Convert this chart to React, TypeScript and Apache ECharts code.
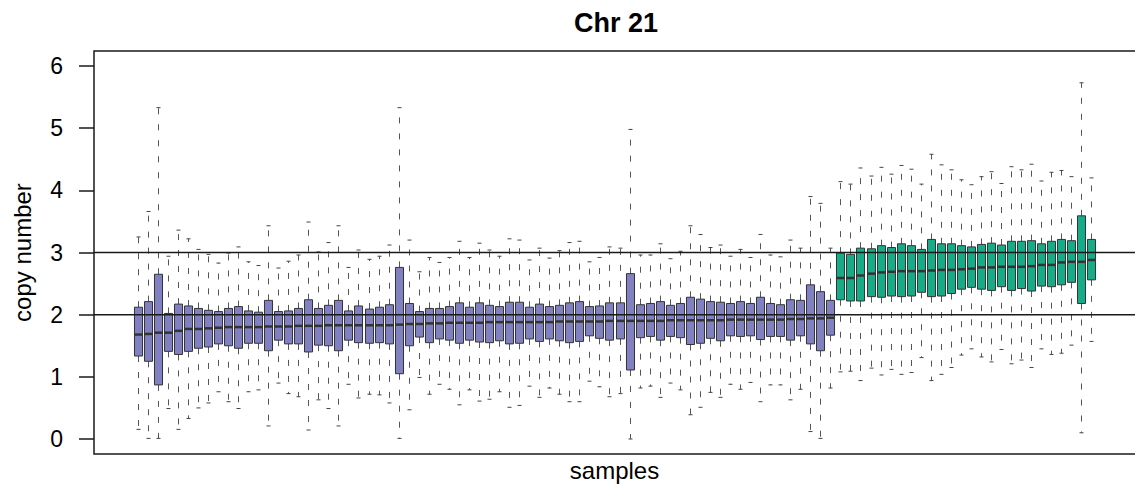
import React, { useEffect, useRef } from "react";
import * as echarts from "echarts";

// ---- data ----
const groupSizes = [70, 26];
const groupColors = ["#8181c2", "#17ab88"];

const whiskerHigh = [
  3.25, 3.66, 5.33, 2.94, 3.36, 3.22, 3.05, 2.97, 2.83, 2.99, 3.09, 2.85, 2.79, 3.43, 2.75, 2.86, 2.96, 3.49, 3.01, 3.16, 3.43, 2.76, 3.04, 2.89, 2.94, 3.12, 5.33, 3.20, 2.69, 2.92, 2.84, 2.92, 3.18,
  2.92, 3.15, 3.04, 2.94, 3.22, 3.20, 2.88, 3.07, 2.91, 3.03, 3.16, 3.18, 2.85, 2.92, 3.09, 3.07, 4.98, 2.96, 2.96, 3.14, 2.90, 3.02, 3.43, 3.29, 3.08, 3.12, 2.94, 3.05, 2.92, 3.29, 2.96, 2.93, 3.20, 3.07, 3.90, 3.79, 3.07,
  4.14, 4.10, 4.36, 4.23, 4.37, 4.26, 4.40, 4.34, 4.10, 4.58, 4.41, 4.33, 4.17, 4.09, 4.22, 4.30, 4.11, 4.38, 4.33, 4.42, 4.15, 4.29, 4.32, 4.22, 5.73, 4.20,
];
const upperQuartile = [
  2.12, 2.21, 2.65, 2.02, 2.17, 2.14, 2.10, 2.07, 2.05, 2.10, 2.13, 2.06, 2.04, 2.23, 2.05, 2.06, 2.10, 2.24, 2.10, 2.15, 2.23, 2.06, 2.14, 2.09, 2.12, 2.16, 2.76, 2.18, 2.05, 2.10, 2.10, 2.13, 2.19,
  2.12, 2.19, 2.15, 2.13, 2.20, 2.20, 2.12, 2.17, 2.13, 2.15, 2.19, 2.21, 2.13, 2.14, 2.19, 2.19, 2.66, 2.16, 2.18, 2.21, 2.15, 2.18, 2.28, 2.25, 2.21, 2.20, 2.18, 2.21, 2.18, 2.28, 2.18, 2.16, 2.24, 2.23, 2.48, 2.37, 2.23,
  2.99, 2.97, 3.07, 3.06, 3.11, 3.08, 3.14, 3.11, 3.05, 3.21, 3.14, 3.14, 3.11, 3.09, 3.13, 3.15, 3.12, 3.18, 3.18, 3.19, 3.14, 3.18, 3.21, 3.19, 3.59, 3.21,
];
const medians = [
  1.68, 1.69, 1.71, 1.71, 1.74, 1.77, 1.77, 1.78, 1.79, 1.80, 1.80, 1.80, 1.80, 1.81, 1.81, 1.81, 1.82, 1.82, 1.82, 1.83, 1.83, 1.83, 1.83, 1.83, 1.83, 1.83, 1.84, 1.85, 1.85, 1.86, 1.86, 1.87, 1.87,
  1.87, 1.87, 1.88, 1.88, 1.88, 1.88, 1.88, 1.88, 1.88, 1.89, 1.89, 1.89, 1.89, 1.89, 1.90, 1.90, 1.90, 1.90, 1.90, 1.90, 1.91, 1.91, 1.91, 1.91, 1.91, 1.91, 1.92, 1.92, 1.92, 1.92, 1.92, 1.92, 1.93, 1.93, 1.94, 1.94, 1.95,
  2.59, 2.59, 2.63, 2.66, 2.68, 2.69, 2.70, 2.70, 2.70, 2.71, 2.72, 2.72, 2.73, 2.74, 2.76, 2.76, 2.77, 2.77, 2.77, 2.78, 2.80, 2.80, 2.84, 2.85, 2.85, 2.88,
];
const lowerQuartile = [
  1.335, 1.25, 0.87, 1.41, 1.36, 1.41, 1.46, 1.48, 1.53, 1.50, 1.46, 1.54, 1.54, 1.42, 1.59, 1.53, 1.53, 1.40, 1.51, 1.50, 1.42, 1.59, 1.55, 1.54, 1.55, 1.53, 1.05, 1.50, 1.64, 1.55, 1.61, 1.59, 1.54,
  1.59, 1.56, 1.55, 1.58, 1.53, 1.54, 1.61, 1.57, 1.61, 1.58, 1.55, 1.57, 1.66, 1.62, 1.59, 1.61, 1.11, 1.63, 1.65, 1.59, 1.65, 1.63, 1.52, 1.54, 1.62, 1.58, 1.66, 1.65, 1.66, 1.60, 1.65, 1.65, 1.59, 1.66, 1.53, 1.42, 1.67,
  2.24, 2.22, 2.22, 2.29, 2.28, 2.30, 2.29, 2.30, 2.36, 2.29, 2.30, 2.34, 2.41, 2.44, 2.41, 2.39, 2.45, 2.39, 2.42, 2.38, 2.46, 2.45, 2.48, 2.52, 2.18, 2.56,
];
const whiskerLow = [
  0.155, 0.01, 0.01, 0.49, 0.155, 0.33, 0.50, 0.58, 0.76, 0.60, 0.49, 0.76, 0.79, 0.21, 0.90, 0.73, 0.68, 0.145, 0.63, 0.49, 0.21, 0.88, 0.66, 0.72, 0.71, 0.58, 0.01, 0.47, 0.99, 0.72, 0.88, 0.80, 0.55,
  0.79, 0.61, 0.64, 0.76, 0.51, 0.54, 0.85, 0.67, 0.82, 0.72, 0.60, 0.60, 0.93, 0.84, 0.68, 0.73, 0.00, 0.82, 0.85, 0.67, 0.90, 0.79, 0.39, 0.51, 0.75, 0.67, 0.88, 0.80, 0.91, 0.60, 0.87, 0.87, 0.63, 0.80, 0.12, 0.01, 0.82,
  1.08, 1.09, 0.94, 1.14, 1.03, 1.12, 1.04, 1.07, 1.31, 0.94, 1.04, 1.15, 1.35, 1.45, 1.32, 1.24, 1.44, 1.21, 1.27, 1.15, 1.45, 1.36, 1.38, 1.51, 0.10, 1.57,
];
const referenceLevels = [2, 3];
const yTicks = [0, 1, 2, 3, 4, 5, 6];

const FONT = "'Liberation Sans', Arial, Helvetica, sans-serif";

export default function App() {
  const ref = useRef<HTMLDivElement>(null);

  useEffect(() => {
    if (!ref.current) return;
    const chart = echarts.init(ref.current, undefined, { renderer: "svg" });

    const n = medians.length;
    const groupOf: number[] = [];
    groupSizes.forEach((s, g) => {
      for (let i = 0; i < s; i++) groupOf.push(g);
    });
    const boxData = medians.map((m, i) => [
      i + 1,
      whiskerLow[i],
      lowerQuartile[i],
      m,
      upperQuartile[i],
      whiskerHigh[i],
      groupOf[i],
    ]);
    // R-style x range: 0.5..n+0.5 extended by 4%
    const xPad = n * 0.04;
    const xMin = 0.5 - xPad;
    const xMax = n + 0.5 + xPad;

    const renderItem = (params: any, api: any) => {
      const x = api.value(0);
      const pLo = api.coord([x, api.value(1)]);
      const pQ1 = api.coord([x, api.value(2)]);
      const pMed = api.coord([x, api.value(3)]);
      const pQ3 = api.coord([x, api.value(4)]);
      const pHi = api.coord([x, api.value(5)]);
      const g = api.value(6);
      const w = api.size([0.8, 0])[0];
      const cx = Math.round(pLo[0]) + 0.5;
      const whisk = { stroke: "#555", lineWidth: 1, lineDash: [6, 10] };
      const staple = { stroke: "#444", lineWidth: 1 };
      return {
        type: "group",
        children: [
          { type: "line", shape: { x1: cx, y1: pQ3[1], x2: cx, y2: pHi[1] }, style: whisk },
          { type: "line", shape: { x1: cx, y1: pQ1[1], x2: cx, y2: pLo[1] }, style: whisk },
          { type: "line", shape: { x1: cx - w / 4, y1: pHi[1], x2: cx + w / 4, y2: pHi[1] }, style: staple },
          { type: "line", shape: { x1: cx - w / 4, y1: pLo[1], x2: cx + w / 4, y2: pLo[1] }, style: staple },
          {
            type: "rect",
            shape: { x: cx - w / 2, y: pQ3[1], width: w, height: pQ1[1] - pQ3[1] },
            style: { fill: groupColors[g], stroke: "#333", lineWidth: 1 },
          },
          {
            type: "line",
            shape: { x1: cx - w / 2, y1: pMed[1], x2: cx + w / 2, y2: pMed[1] },
            style: { stroke: "#333", lineWidth: 2.5 },
          },
        ],
      };
    };

    const refSeries = referenceLevels.map((lvl) => ({
      type: "line",
      data: [
        [xMin, lvl],
        [xMax, lvl],
      ],
      symbol: "none",
      silent: true,
      z: 5,
      lineStyle: { color: "#1a1a1a", width: 1.5 },
    }));

    chart.setOption({
      animation: false,
      textStyle: { fontFamily: FONT },
      grid: { left: 94, top: 66, width: 1044, height: 373, containLabel: false },
      xAxis: {
        type: "value",
        min: xMin,
        max: xMax,
        axisLine: { show: false, onZero: false },
        axisTick: { show: false },
        axisLabel: { show: false },
        splitLine: { show: false },
        name: "samples",
        nameLocation: "middle",
        nameGap: 19,
        nameTextStyle: { fontSize: 24, color: "#000", fontFamily: FONT },
      },
      yAxis: {
        type: "value",
        min: yTicks[0],
        max: yTicks[yTicks.length - 1],
        interval: 1,
        axisLine: { show: false, onZero: false },
        axisTick: { show: true, length: 15, lineStyle: { color: "#1a1a1a", width: 1.5 } },
        axisLabel: { fontSize: 23, color: "#000", margin: 31, fontFamily: FONT },
        splitLine: { show: false },
        name: "copy number",
        nameLocation: "middle",
        nameGap: 60,
        nameTextStyle: { fontSize: 24, color: "#000", fontFamily: FONT },
      },
      graphic: [
        {
          type: "rect",
          x: 94,
          y: 51,
          shape: { x: 0, y: 0, width: 1044, height: 403 },
          style: { fill: "none", stroke: "#1a1a1a", lineWidth: 1.5 },
          z: 100,
          silent: true,
        },
        {
          type: "text",
          x: 616,
          y: 23,
          style: {
            text: "Chr 21",
            fill: "#000",
            font: `bold 27px ${FONT}`,
            align: "center",
            verticalAlign: "middle",
          },
        },
      ],
      series: [
        {
          type: "custom",
          renderItem,
          data: boxData,
          encode: { x: 0, y: [1, 2, 3, 4, 5] },
          z: 2,
          silent: true,
        },
        ...refSeries,
      ],
    });

    return () => chart.dispose();
  }, []);

  return (
    <div
      ref={ref}
      style={{ position: "fixed", left: 0, top: 0, width: 1135, height: 487, background: "#fff" }}
    />
  );
}
